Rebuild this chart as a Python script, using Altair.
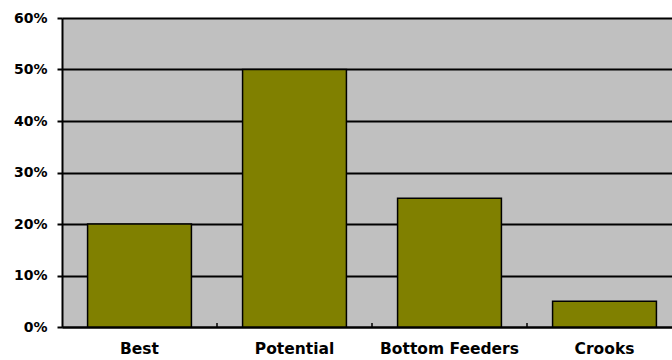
import altair as alt
import pandas as pd

categories = ["Best", "Potential", "Bottom Feeders", "Crooks"]
shares = [0.20, 0.50, 0.25, 0.05]

df = pd.DataFrame({"cat": categories, "share": shares})
ticks_df = pd.DataFrame({"cat": categories[1:]})

y_scale = alt.Scale(domain=[0, 0.6], nice=False)

bars = alt.Chart(df).mark_bar(
    color="#808000", stroke="#000000", strokeWidth=1.5
).encode(
    x=alt.X("cat:N", sort=categories, title=None,
            scale=alt.Scale(domain=categories, range=[0, 620],
                            paddingInner=0.33, paddingOuter=0.165),
            axis=alt.Axis(labelAngle=0, ticks=False, labelPadding=14,
                          labelFont="DejaVu Sans", labelFontSize=15.5,
                          labelFontWeight="bold", labelColor="#000000",
                          domainColor="#000000", domainWidth=2,
                          grid=False)),
    y=alt.Y("share:Q", scale=y_scale, title=None,
            axis=alt.Axis(values=[0, 0.1, 0.2, 0.3, 0.4, 0.5, 0.6],
                          format=".0%", tickSize=5, tickColor="#000000",
                          tickWidth=2, labelPadding=10,
                          labelFont="DejaVu Sans", labelFontSize=14,
                          labelFontWeight="bold", labelColor="#000000",
                          domainColor="#000000", domainWidth=2,
                          grid=True, gridColor="#000000", gridWidth=2,
                          gridOpacity=1)),
)

tick_marks = alt.Chart(ticks_df).mark_rule(color="#000000", strokeWidth=1.5).encode(
    x=alt.X("cat:N", bandPosition=0, title=None,
            scale=alt.Scale(domain=categories, range=[0, 620],
                            paddingInner=0, paddingOuter=0),
            axis=None),
    y=alt.value(309),
    y2=alt.value(305),
)

chart = alt.layer(bars, tick_marks).resolve_scale(x="independent").properties(
    width=610, height=309,
    autosize=alt.AutoSizeParams(type="none"),
    padding={"left": 62, "top": 18, "right": 0, "bottom": 33},
    background="#ffffff",
).configure_view(
    fill="#C0C0C0", stroke=None
)

chart.save("out.html", embed_options={"renderer": "svg", "actions": False})
